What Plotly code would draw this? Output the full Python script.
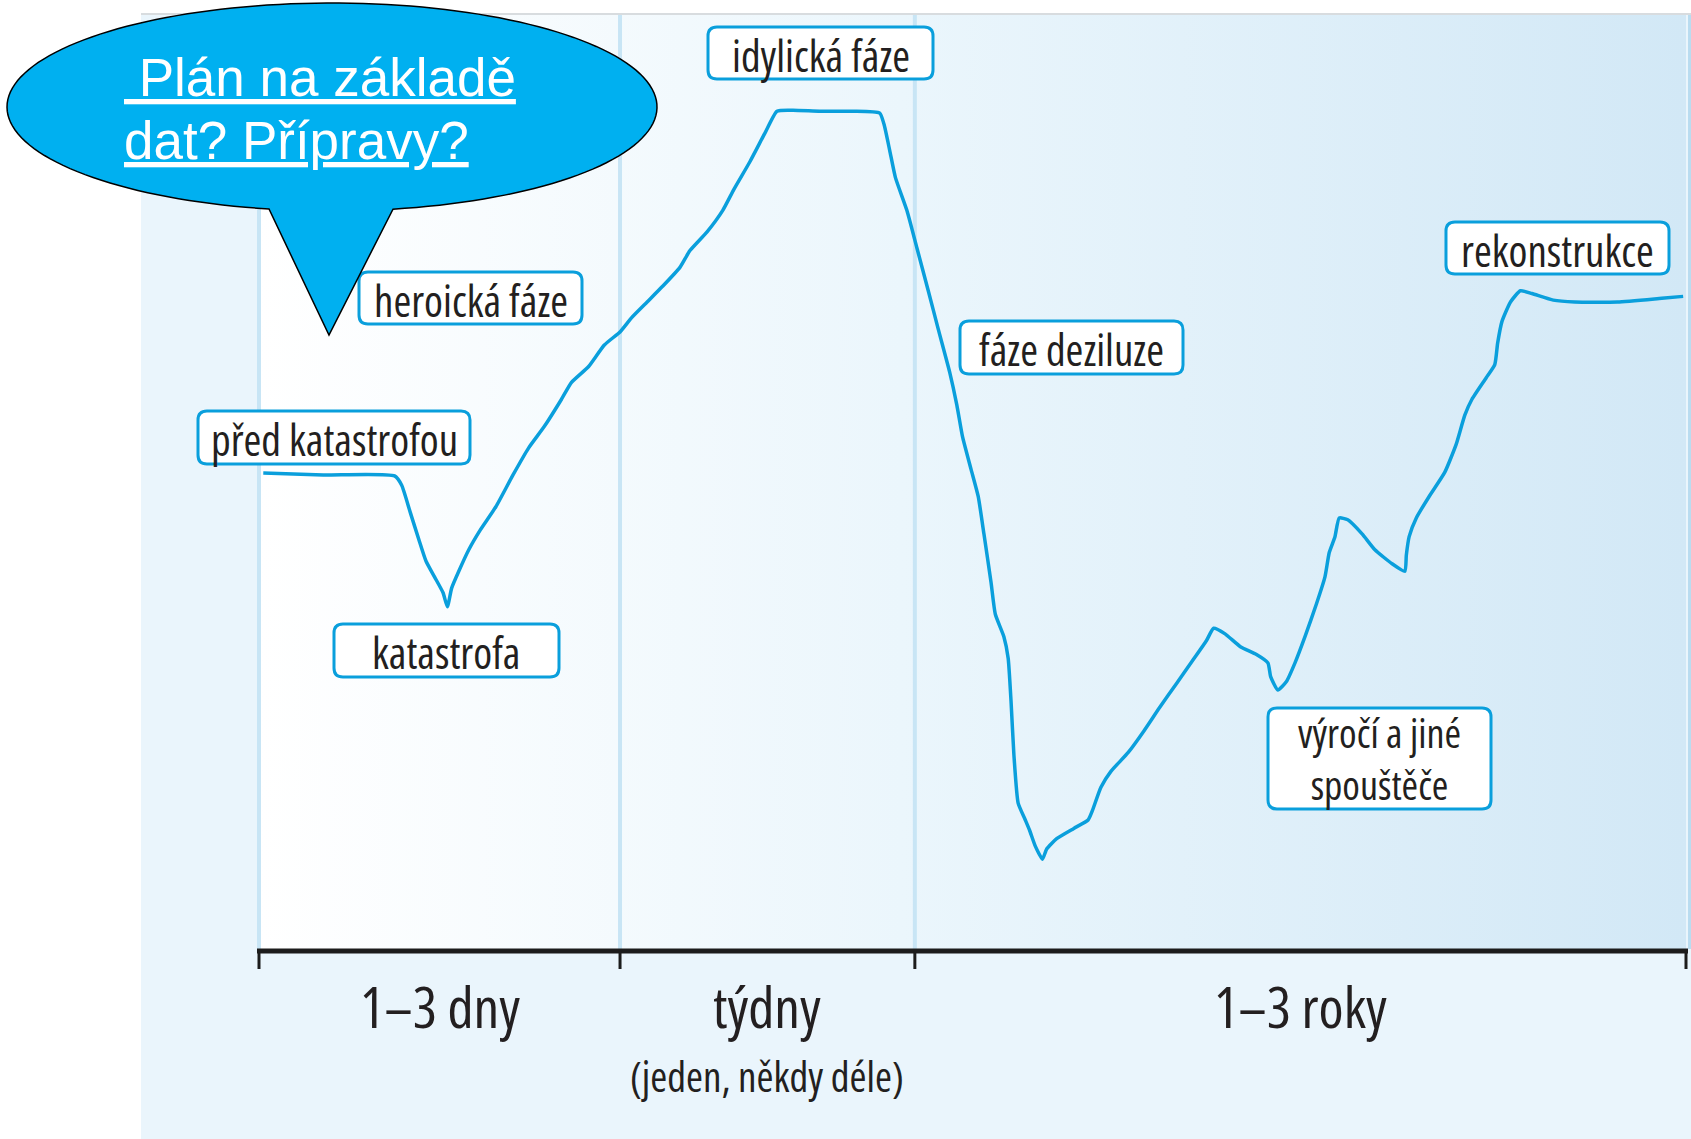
import numpy as np
import plotly.graph_objects as go

# --- data: cas (0-100 po ose) a uroven pohody (0-100) ---
cas = [0.3, 4.5, 9.5, 10.0, 10.6, 11.2, 11.7, 12.3, 12.9, 13.2,
       13.5, 14.0, 14.7, 15.5, 16.6, 17.8, 18.9, 20.0, 21.2, 21.9,
       23.1, 24.2, 25.3, 26.1, 27.2, 28.3, 29.5, 30.2, 31.4, 32.5,
       33.3, 34.4, 35.5, 36.3, 37.4, 39.3, 41.6, 43.5, 43.8, 44.2,
       44.6, 45.4, 46.1, 46.9, 47.6, 48.4, 48.9, 49.3, 49.9, 50.4,
       50.8, 51.3, 51.6, 52.2, 52.5, 52.7, 52.9, 53.2, 53.7, 54.0,
       54.4, 54.9, 55.2, 55.9, 57.1, 58.1, 58.4, 59.0, 59.7, 60.9,
       62.0, 63.1, 64.3, 65.4, 66.4, 66.9, 67.7, 68.8, 69.9, 70.7,
       70.9, 71.4, 72.0, 72.6, 73.3, 74.1, 74.7, 75.0, 75.4, 75.7,
       76.3, 77.3, 78.2, 79.4, 80.3, 80.4, 80.6, 81.1, 82.0, 83.1,
       83.9, 84.5, 85.0, 86.0, 86.6, 86.8, 87.1, 87.7, 88.4, 89.2,
       90.7, 92.2, 95.2, 98.3, 99.8]
pohoda = [50.9, 50.7, 50.6, 49.6, 46.7, 43.8, 41.5, 39.8, 38.1, 36.6,
          38.6, 40.4, 42.7, 44.8, 47.3, 50.7, 53.6, 55.9, 58.8, 60.6,
          62.3, 64.6, 66.0, 67.5, 69.2, 70.9, 72.9, 74.7, 76.7, 79.0,
          81.3, 84.2, 87.4, 89.6, 89.7, 89.6, 89.6, 89.4, 88.2, 85.4,
          82.5, 79.0, 75.0, 70.4, 66.3, 61.7, 58.2, 54.8, 51.3, 48.4,
          44.4, 39.2, 35.8, 33.4, 31.1, 26.5, 20.8, 15.6, 13.8, 12.7,
          11.0, 9.6, 10.7, 11.8, 12.9, 13.8, 14.8, 17.3, 19.0, 21.0,
          23.3, 25.8, 28.4, 30.8, 33.0, 34.3, 33.7, 32.3, 31.5, 30.6,
          29.1, 27.7, 28.6, 30.6, 33.4, 36.9, 39.8, 42.4, 44.1, 46.1,
          45.9, 44.4, 42.7, 41.2, 40.4, 42.1, 44.1, 46.1, 48.4, 51.0,
          54.0, 57.1, 58.8, 61.1, 62.5, 64.8, 67.1, 69.2, 70.4, 70.1,
          69.4, 69.2, 69.2, 69.6, 69.8]

hranice = [0, 25.3, 45.96, 100]          # hranice obdobi na ose
obdobi = ["1–3 dny", "týdny", "1–3 roky"]
poznamka = "(jeden, někdy déle)"
faze = ["před katastrofou", "katastrofa", "heroická fáze", "idylická fáze",
        "fáze deziluze", "výročí a jiné|spouštěče", "rekonstrukce"]
bublina = ["\u00a0Plán na základě", "dat? Přípravy?"]

# --- layout (pixely obrazku) ---
W, H = 1691, 1139
X0, X1, Y0, Y1 = 259, 1686, 949, 14       # kde lezi 0 a 100 na osach


def ax(px):
    return (px - X0) / (X1 - X0) * 100


def ay(py):
    return (Y0 - py) / (Y0 - Y1) * 100


# boxy fazi: (levy, horni, pravy, dolni) v pixelech
boxy = [(198, 411, 470, 464), (334, 624, 559, 677), (359, 272, 582, 324),
        (708, 27, 933, 79), (960, 321, 1183, 374), (1268, 708, 1491, 809),
        (1446, 222, 1669, 274)]

MODRA = "#0a9fdc"
TEXT = "#231f20"
UZKE = "Open Sans, Roboto, sans-serif"


def cond(s):
    # zuzene pismo (v originalu Myriad Condensed)
    return f'<span style="font-stretch:condensed">{s}</span>'


def rrect(l, t, r, b, rad=9):
    p = [("M", l + rad, t), ("L", r - rad, t), ("Q", r, t, r, t + rad),
         ("L", r, b - rad), ("Q", r, b, r - rad, b), ("L", l + rad, b),
         ("Q", l, b, l, b - rad), ("L", l, t + rad), ("Q", l, t, l + rad, t)]
    out = []
    for seg in p:
        c = seg[0]
        nums = seg[1:]
        pts = " ".join(f"{ax(nums[i]):.3f},{ay(nums[i + 1]):.3f}" for i in range(0, len(nums), 2))
        out.append(f"{c} {pts}")
    return " ".join(out) + " Z"


fig = go.Figure()

# pozadi s prechodem
fig.add_trace(go.Scatter(
    x=[0, 100, 100, 0, 0], y=[0, 0, 100, 100, 0],
    fill="toself", mode="none",
    fillgradient=dict(type="horizontal",
                      colorscale=[[0, "#ffffff"], [0.45, "#ebf6fc"], [1, "#d2e8f6"]]),
    hoverinfo="skip", showlegend=False))

# svisle delici cary
dx, dy = [], []
for h in hranice[:-1]:
    dx += [h, h, None]
    dy += [0, 100, None]
fig.add_trace(go.Scatter(x=dx, y=dy, mode="lines",
                         line=dict(color="#c8e5f5", width=4),
                         hoverinfo="skip", showlegend=False))

# krivka
fig.add_trace(go.Scatter(x=cas, y=pohoda, mode="lines",
                         line=dict(color=MODRA, width=3.5, shape="spline", smoothing=0.5),
                         hoverinfo="skip", showlegend=False))

# osa a znacky
tick_len = ay(969)
fig.add_trace(go.Scatter(x=[ax(257), ax(1688)], y=[ay(951), ay(951)], mode="lines",
                         line=dict(color="#1c1c1c", width=5),
                         hoverinfo="skip", showlegend=False))
tx, ty = [], []
for h in hranice:
    tx += [h, h, None]
    ty += [ay(951), tick_len, None]
fig.add_trace(go.Scatter(x=tx, y=ty, mode="lines",
                         line=dict(color="#1c1c1c", width=3),
                         hoverinfo="skip", showlegend=False))

shapes = []
# panel
shapes.append(dict(type="rect", xref="x", yref="y", layer="below",
                   x0=ax(141), x1=ax(W), y0=ay(H), y1=ay(14),
                   fillcolor="#eaf5fc", line=dict(width=0)))
shapes.append(dict(type="rect", xref="x", yref="y", layer="below",
                   x0=ax(1688), x1=ax(W), y0=ay(949), y1=ay(14),
                   fillcolor="#b9dcf0", line=dict(width=0)))
shapes.append(dict(type="line", xref="x", yref="y", layer="above",
                   x0=ax(141), x1=ax(W), y0=ay(14), y1=ay(14),
                   line=dict(color="#d8dcdf", width=2)))

# boxy fazi
for (l, t, r, b) in boxy:
    shapes.append(dict(type="path", xref="x", yref="y", layer="above",
                       path=rrect(l, t, r, b), fillcolor="white",
                       line=dict(color=MODRA, width=3)))

# bublina
cx, cy, rx, ry = 332, 107, 325, 104
ta = np.pi - np.arccos((332 - 269) / rx)
tb = np.arccos((393 - 332) / rx) + 2 * np.pi
tt = np.linspace(ta, tb, 160)
bx = cx + rx * np.cos(tt)
by = cy + ry * np.sin(tt)
path = "M " + " L ".join(f"{ax(u):.3f},{ay(v):.3f}" for u, v in zip(bx, by))
path += f" L {ax(329):.3f},{ay(335):.3f} Z"
shapes.append(dict(type="path", xref="x", yref="y", layer="above", path=path,
                   fillcolor="#00b0f0", line=dict(color="black", width=1.5)))

annotations = []
for name, (l, t, r, b) in zip(faze, boxy):
    dva = "|" in name
    txt = "<br>".join(cond(s) for s in name.split("|"))
    annotations.append(dict(x=ax((l + r) / 2), y=ay((t + b) / 2 + (0 if dva else 2)), text=txt,
                            showarrow=False, xanchor="center", yanchor="middle",
                            font=dict(family=UZKE, size=40 if dva else 43, color=TEXT)))

for i, lab in enumerate(obdobi):
    annotations.append(dict(x=(hranice[i] + hranice[i + 1]) / 2, y=ay(1006), text=cond(lab),
                            showarrow=False, xanchor="center", yanchor="middle",
                            font=dict(family=UZKE, size=57, color=TEXT)))
annotations.append(dict(x=(hranice[1] + hranice[2]) / 2, y=ay(1076), text=cond(poznamka),
                        showarrow=False, xanchor="center", yanchor="middle",
                        font=dict(family=UZKE, size=41, color=TEXT)))

for i, line in enumerate(bublina):
    annotations.append(dict(x=ax(122), y=ay(77 + i * 63),
                            text=f'<span style="text-decoration:underline">{line}</span>',
                            showarrow=False, xanchor="left", yanchor="middle",
                            font=dict(family="Liberation Sans, Arial, sans-serif", size=53, color="white")))

fig.update_layout(
    width=W, height=H,
    margin=dict(l=0, r=0, t=0, b=0),
    paper_bgcolor="white",
    plot_bgcolor="white",
    xaxis=dict(range=[ax(0), ax(W)], visible=False, fixedrange=True),
    yaxis=dict(range=[ay(H), ay(0)], visible=False, fixedrange=True),
    shapes=shapes,
    annotations=annotations,
    showlegend=False,
)

fig.write_html("out.html", config=dict(displayModeBar=False),
               post_script="document.body.style.margin='0';document.body.style.overflow='hidden';")
